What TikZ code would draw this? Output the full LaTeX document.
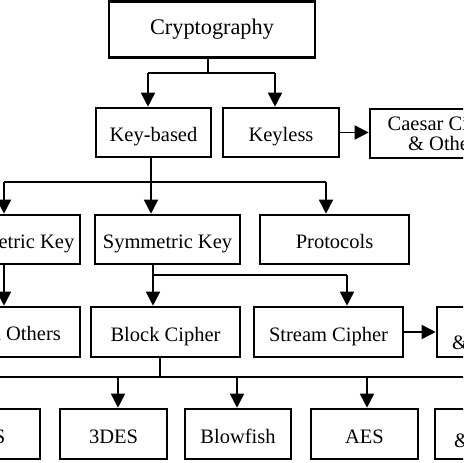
\documentclass[tikz,border=0pt]{standalone}
\usepackage{fontspec}
\setmainfont{Liberation Serif}
\usetikzlibrary{arrows.meta}
\begin{document}
\begin{tikzpicture}[x=1pt,y=-1pt,
  box/.style={draw, line width=2.6pt, inner sep=0pt, font=\fontsize{20.5}{19.5}\selectfont, align=center},
  one/.style={box, text height=20pt, text depth=2pt},
  lbl/.style={inner sep=0pt, font=\fontsize{20.5}{19.5}\selectfont},
  conn/.style={line width=1.6pt},
  arr/.style={conn, -{Triangle[width=14pt,length=14pt]}}]
\useasboundingbox (0,0) rectangle (463,463);
\clip (0,0) rectangle (463,463);
\fill[white] (0,0) rectangle (463,463);
% row 0
\node[box, minimum width=206pt, minimum height=56pt, font=\fontsize{22.3}{24}\selectfont] (crypt) at (212,29.5) {Cryptography};
% row 1
\node[one, minimum width=115pt, minimum height=49pt] (kb) at (153.5,132.5) {Key-based};
\node[one, minimum width=116pt, minimum height=49pt] (kl) at (281,132.5) {Keyless};
\node[box, minimum width=152pt, minimum height=49pt] (caesar) at (446,133.5) {Caesar Cipher\\\& Others};
% row 2
\node[one, minimum width=152pt, minimum height=49pt] (asym) at (4,239.5) {Asymmetric Key};
\node[one, minimum width=145pt, minimum height=49pt] (sym) at (167.5,239.5) {Symmetric Key};
\node[one, minimum width=149pt, minimum height=49pt] (proto) at (334.5,239.5) {Protocols};
% row 3
\node[box, minimum width=152pt, minimum height=50pt] (rsa) at (4,332) {};
\node[lbl, anchor=base east] (rsat) at (61,340.5) {\& Others};
\node[one, minimum width=149pt, minimum height=50pt] (block) at (165.5,332) {Block Cipher};
\node[one, minimum width=149pt, minimum height=50pt] (stream) at (328.5,332) {Stream Cipher};
\node[box, minimum width=148pt, minimum height=50pt] (rc) at (511,332) {};
\node[lbl, anchor=base west] (rct) at (452,349) {\& Others};
% row 4
\node[one, minimum width=108pt, minimum height=50pt] (des) at (-14,434) {DES};
\node[one, minimum width=107pt, minimum height=50pt] (tdes) at (113.5,434) {3DES};
\node[one, minimum width=106pt, minimum height=50pt] (blow) at (238,434) {Blowfish};
\node[one, minimum width=107pt, minimum height=50pt] (aes) at (364.5,434) {AES};
\node[box, minimum width=108pt, minimum height=50pt] (oth) at (489,434) {};
\node[lbl, anchor=base west] (otht) at (454,447) {\& Others};
% connectors level 1
\coordinate (j1) at (208,73);
\coordinate (a1) at (148,73);
\coordinate (a2) at (275,73);
\draw[conn] (crypt.south -| j1) -- (j1);
\draw[conn] (a1) -- (a2);
\draw[arr] (a1) -- (kb.north -| a1);
\draw[arr] (a2) -- (kl.north -| a2);
\draw[arr] (kl.east) -- (caesar.west |- kl.east);
% level 2
\coordinate (b0) at (151,182);
\coordinate (b1) at (4,182);
\coordinate (b3) at (326,182);
\draw[conn] (kb.south -| b0) -- (b0);
\draw[conn] (b1) -- (b3);
\draw[arr] (b1) -- (asym.north -| b1);
\draw[arr] (b0) -- (sym.north -| b0);
\draw[arr] (b3) -- (proto.north -| b3);
% level 3
\draw[arr] (asym.south -| b1) -- (rsa.north -| b1);
\coordinate (c0) at (153,275);
\coordinate (c1) at (347,275);
\draw[conn] (sym.south -| c0) -- (c0) -- (c1);
\draw[arr] (c0) -- (block.north -| c0);
\draw[arr] (c1) -- (stream.north -| c1);
\draw[arr] (stream.east) -- (rc.west);
% level 4
\coordinate (d0) at (160,377);
\coordinate (dl) at (-14,377);
\coordinate (d1) at (118,377);
\coordinate (d2) at (237,377);
\coordinate (d3) at (367,377);
\coordinate (dr) at (490,377);
\draw[conn] (block.south -| d0) -- (d0);
\draw[conn] (dl) -- (dr);
\draw[arr] (dl) -- (des.north -| dl);
\draw[arr] (d1) -- (tdes.north -| d1);
\draw[arr] (d2) -- (blow.north -| d2);
\draw[arr] (d3) -- (aes.north -| d3);
\draw[arr] (dr) -- (oth.north -| dr);
\end{tikzpicture}
\end{document}
